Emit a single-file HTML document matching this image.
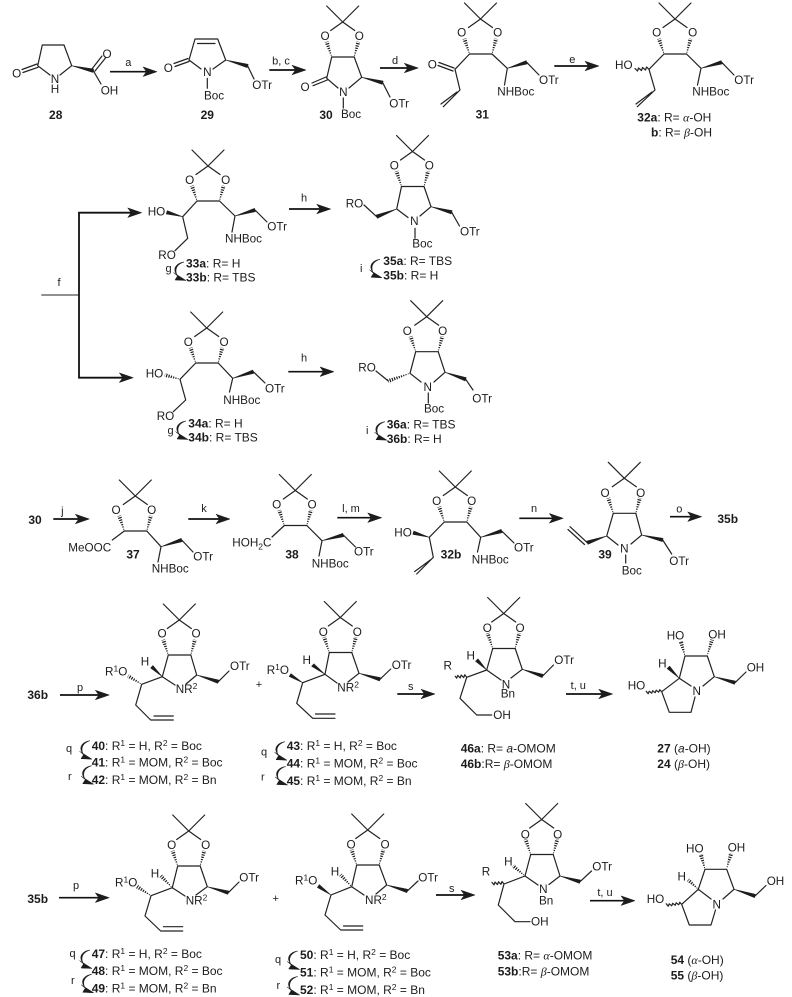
<!DOCTYPE html>
<html><head><meta charset="utf-8"><style>
html,body{margin:0;padding:0;background:#fff}
svg{display:block}
text{font-family:"Liberation Sans",sans-serif;font-size:11.7px;fill:#1c1c1c}
.m{text-anchor:middle}
.s{font-size:11px}
.l{font-size:12px}
.b{font-weight:bold}
.g{font-family:"Liberation Serif",serif;font-style:italic}
.i{font-style:italic}
.k{fill:none;stroke:#222;stroke-width:1.2;stroke-linecap:round;stroke-linejoin:round}
.f{fill:#1c1c1c;stroke:#1c1c1c;stroke-width:.5;stroke-linejoin:round}
.d{fill:none;stroke:#fff;stroke-width:6.5;stroke-dasharray:1.2 1.2}
.a{fill:none;stroke:#111;stroke-width:1.7}
.v{font-size:8.5px}
</style></head><body>
<svg width="792" height="997" viewBox="0 0 792 997" xmlns="http://www.w3.org/2000/svg">
<defs>
<path id="ah" class="f" d="M0 0L-14-4.8L-10.5 0L-14 4.8Z"/>
<g id="ca"><path class="f" d="M0 0C-8 1-12 7-7 13C-9.500 7-7 2.500 0 0Z"/><path class="f" d="M2 18.500L-10.500 10.500L-6.500 14L-9 18Z"/></g>
<g id="ac">
<path class="f" d="M-11 35L-17.8 20.6L-14.2 19.4Z"/><path class="d" d="M-11 35L-16 20"/>
<path class="f" d="M11.5 35L13.7 19.5L17.3 20.5Z"/><path class="d" d="M11.5 35L15.5 20"/>
<path class="k" d="M-16-16L0 0L16-16M0 0L-12 8.5M0 0L12 8.5M-11 35H11.5"/>
</g>
</defs>
<rect width="792" height="997" fill="#fff"/>

<!-- 28 -->
<path class="k" d="M37.7 65.7L42.3 45H64L71.7 65.7L60 75M37.7 65.7L50 75M37 64L22 69.5M38 67.3L23 72.5M91.5 69.5L102 56M95 71L105.5 58M93.3 70.7L101 84"/>
<path class="f" d="M71.7 65.7L93.7 69L92.9 72.5Z"/>
<text class="m" x="16.7" y="77.5">O</text><text class="m" x="55" y="83">N</text><text class="m" x="55" y="93">H</text><text class="m" x="107" y="58">O</text><text x="100.7" y="94.7">OH</text>
<text class="m b l" x="55.7" y="119">28</text>
<path class="a" d="M110 71.7H148"/><use href="#ah" x="157" y="71.7"/><text class="m s" x="128.3" y="66">a</text>

<!-- 29 -->
<path class="k" d="M189 60L195 39H217.7L225.7 60L213 69M189 60L201 69M197.5 43.5H215M188 58.5L174 63.5M189 61.5L175 66.5M207.3 78.3V88.3M247.7 66L254 79"/>
<path class="f" d="M225.7 60L248.2 64.3L247.2 67.7Z"/>
<text class="m" x="168.3" y="71.9">O</text><text class="m" x="207.3" y="75.9">N</text><text x="204" y="99.7">Boc</text><text x="252.3" y="89">OTr</text>
<text class="m b l" x="207.3" y="119">29</text>
<path class="a" d="M269.3 70H297"/><use href="#ah" x="306" y="70"/><text class="m s" x="281" y="64.5">b, c</text>

<!-- 30 -->
<use href="#ac" x="342.7" y="22"/>
<path class="k" d="M331.7 57L326.7 78.3L338 88M354.2 57L361.7 77.3L349 88M326 77L312 83M327.3 80L313 85.7M343.3 98V108M382.7 82.7L390 97"/>
<path class="f" d="M361.7 77.3L383.2 81L382.2 84.4Z"/>
<text class="m" x="325" y="40">O</text><text class="m" x="359.3" y="40">O</text><text class="m" x="305" y="91">O</text><text class="m" x="343.3" y="96">N</text><text x="341" y="118">Boc</text><text x="389.3" y="107.4">OTr</text>
<text class="m b l" x="326" y="119">30</text>
<path class="a" d="M380 68H409"/><use href="#ah" x="418.3" y="68"/><text class="m s" x="395" y="64">d</text>

<!-- 31 -->
<use href="#ac" x="480.5" y="19"/>
<path class="k" d="M469.5 54L455 69.3L460 90L443.3 106.7M457 92L441 104M454 68L439 62.5M453 71L438 65.5M492 54L507.3 68.3L504.5 85M526.7 62.3L539 75"/>
<path class="f" d="M507.3 68.3L527.2 64L526.2 60.6Z"/>
<text class="m" x="461.7" y="36.5">O</text><text class="m" x="497.7" y="36.5">O</text><text class="m" x="432.3" y="68.5">O</text><text x="539" y="84">OTr</text><text x="497.3" y="95.7">NHBoc</text>
<text class="m b l" x="482.3" y="118.3">31</text>
<path class="a" d="M554.3 66H590"/><use href="#ah" x="599" y="66"/><text class="m s" x="572.3" y="63">e</text>

<!-- 32a -->
<use href="#ac" x="675" y="19"/>
<path class="k" d="M664 54L649 69.3L655 90L637.3 106.7M652 92L636 104M686.5 54L701 68.3L697.5 85M721.7 62.3L734 75M649 69.3l-2.5-2.3l-1 3l-3-2.5l-1 3l-3-2.5l-1 3l-2.5-2.5"/>
<path class="f" d="M701 68.3L722.2 64L721.2 60.6Z"/>
<text class="m" x="656.7" y="36.5">O</text><text class="m" x="692.7" y="36.5">O</text><text x="615" y="69">HO</text><text x="734.3" y="84">OTr</text><text x="692.3" y="95.7">NHBoc</text>
<text class="l" x="637.3" y="121.3"><tspan class="b">32a</tspan>: R= <tspan class="g">α</tspan>-OH</text>
<text class="l" x="651" y="136.3"><tspan class="b">b</tspan>: R= <tspan class="g">β</tspan>-OH</text>

<!-- f branch -->
<path class="k" d="M41.7 295H79" style="stroke-width:1"/>
<path class="a" d="M132 212.7H79V377.7H124" style="stroke-width:1.8"/>
<use href="#ah" x="141.7" y="212.7"/><use href="#ah" x="133.3" y="377.7"/>
<text class="m s" x="59" y="286">f</text>

<!-- 33 -->
<use href="#ac" x="208" y="166"/>
<path class="k" d="M197 201L182.7 216.7L187.7 238.3L175 250.7M219.5 201L235 216L232 232M255 210L267 222"/>
<path class="f" d="M182.7 216.7L167.2 210.6L166.2 214Z"/><path class="f" d="M235 216L255.5 211.7L254.5 208.3Z"/>
<text class="m" x="189.7" y="184.2">O</text><text class="m" x="225.7" y="184.2">O</text><text x="147.7" y="215.7">HO</text><text x="158.3" y="259">RO</text><text x="267.3" y="230.7">OTr</text><text x="225" y="242.3">NHBoc</text>
<use href="#ca" x="184" y="262"/><text class="s" x="165.5" y="272">g</text>
<text class="l" x="186" y="267.3"><tspan class="b">33a</tspan>: R= H</text>
<text class="l" x="186" y="281.7"><tspan class="b">33b</tspan>: R= TBS</text>
<path class="a" d="M289 209H321"/><use href="#ah" x="330.7" y="209"/><text class="m s" x="304" y="201.5">h</text>

<!-- 35 -->
<use href="#ac" x="412.5" y="151.5"/>
<path class="k" d="M401.5 186.5L396.7 209L408 217.5M424 186.5L431 206.7L420 216M376.7 216.7L364 205M415 228.3V238.3M451.7 212.3L459.5 226"/>
<path class="f" d="M396.7 209L377.35 218.4L376.05 215Z"/><path class="f" d="M431 206.7L452.2 210.6L451.2 214Z"/>
<text class="m" x="394.3" y="169.7">O</text><text class="m" x="429.3" y="169.7">O</text><text class="m" x="414.3" y="225.2">N</text><text x="345.7" y="207.3">RO</text><text x="412.3" y="247.3">Boc</text><text x="460" y="235.7">OTr</text>
<use href="#ca" x="380" y="259.3"/><text class="s" x="360" y="272">i</text>
<text class="l" x="383.3" y="265"><tspan class="b">35a</tspan>: R= TBS</text>
<text class="l" x="383.3" y="279.7"><tspan class="b">35b</tspan>: R= H</text>

<!-- 34 -->
<use href="#ac" x="206.7" y="328"/>
<path class="f" d="M180 379.3L165.5 373.3L164.5 376.7Z"/><path class="d" d="M180 379.3L165 375"/>
<path class="k" d="M195.7 363L180 379.3L185.7 400L173.3 411.7M218.2 363L232.7 378.3L229.5 392M253.3 371.7L265 383"/>
<path class="f" d="M232.7 378.3L253.8 373.4L252.8 370Z"/>
<text class="m" x="188.3" y="345.9">O</text><text class="m" x="224" y="345.9">O</text><text x="145.7" y="377.3">HO</text><text x="156.7" y="420">RO</text><text x="265" y="392.3">OTr</text><text x="223.3" y="404">NHBoc</text>
<use href="#ca" x="186" y="421"/><text class="s" x="167.5" y="434">g</text>
<text class="l" x="188.3" y="427.3"><tspan class="b">34a</tspan>: R= H</text>
<text class="l" x="188.3" y="441.7"><tspan class="b">34b</tspan>: R= TBS</text>
<path class="a" d="M288.3 371.7H325"/><use href="#ah" x="334" y="371.7"/><text class="m s" x="304" y="361.5">h</text>

<!-- 36 -->
<use href="#ac" x="426.7" y="316.7"/>
<path class="f" d="M410 373.3L389 382.7L387.6 379.3Z"/><path class="d" d="M410 373.3L388.3 381"/>
<path class="k" d="M415.7 351.7L410 373.3L421 382M438.2 351.7L445 372.3L434 382M388.3 381L376 371M428.3 393V403M465.7 379.3L473 390"/>
<path class="f" d="M445 372.3L466.3 377.6L465.1 381Z"/>
<text class="m" x="407.3" y="334.9">O</text><text class="m" x="442.7" y="334.9">O</text><text class="m" x="427.7" y="390.9">N</text><text x="358.3" y="371.3">RO</text><text x="424" y="412.3">Boc</text><text x="472.3" y="402.3">OTr</text>
<use href="#ca" x="385" y="421.7"/><text class="s" x="366" y="434">i</text>
<text class="l" x="386.7" y="428.3"><tspan class="b">36a</tspan>: R= TBS</text>
<text class="l" x="386.7" y="443"><tspan class="b">36b</tspan>: R= H</text>

<!-- row 3 -->
<text class="m b l" x="35" y="524">30</text>
<path class="a" d="M53.3 519H80"/><use href="#ah" x="89.3" y="519"/><text class="m s" x="62.3" y="514.5">j</text>

<use href="#ac" x="135.3" y="496"/>
<path class="k" d="M124.3 531L112.3 540M146.8 531L161 546.7L158 562M181.7 540L193 552"/>
<path class="f" d="M161 546.7L182.2 541.7L181.2 538.3Z"/>
<text class="m" x="116" y="514.2">O</text><text class="m" x="151.7" y="514.2">O</text><text x="68.3" y="551.3">MeOOC</text><text x="193.3" y="560.7">OTr</text><text x="151.7" y="572.3">NHBoc</text>
<text class="m b l" x="133" y="558.3">37</text>
<path class="a" d="M188.3 519H221"/><use href="#ah" x="230" y="519"/><text class="m s" x="204" y="512">k</text>

<use href="#ac" x="295.3" y="490.5"/>
<path class="k" d="M284.3 525.5L272 537M306.8 525.5L322 540.7L319 556M343.3 535L355.5 547"/>
<path class="f" d="M322 540.7L343.8 536.7L342.8 533.3Z"/>
<text class="m" x="276.7" y="508.5">O</text><text class="m" x="312" y="508.5">O</text><text x="232.3" y="546.7">HOH<tspan class="v" dy="3">2</tspan><tspan dy="-3">C</tspan></text><text x="354" y="555.7">OTr</text><text x="311.7" y="567.3">NHBoc</text>
<text class="m b l" x="292" y="558.3">38</text>
<path class="a" d="M337.3 517.7H373"/><use href="#ah" x="381.7" y="517.7"/><text class="m s" x="351" y="512">l, m</text>

<use href="#ac" x="455.3" y="487"/>
<path class="k" d="M444.3 522L429.3 537.3L433.3 557.3L416.7 574M431 559.5L414.7 571.5M466.8 522L480.7 537.3L477.5 552M501.7 531L514 543"/>
<path class="f" d="M429.3 537.3L413.8 531L412.8 534.4Z"/><path class="f" d="M480.7 537.3L502.2 532.7L501.2 529.3Z"/>
<text class="m" x="436.7" y="504.9">O</text><text class="m" x="471.7" y="504.9">O</text><text x="394.3" y="536.7">HO</text><text x="514" y="551.3">OTr</text><text x="471.7" y="563.3">NHBoc</text>
<text class="m b l" x="451" y="558.3">32b</text>
<path class="a" d="M519.3 518.3H554"/><use href="#ah" x="563.3" y="518.3"/><text class="m s" x="534" y="512">n</text>

<use href="#ac" x="624.3" y="478.3"/>
<path class="k" d="M613.3 513.3L606.7 536L618 545M635.8 513.3L641.7 535L631 544M587.3 542.7L570 526.7M584.5 544.5L568 529.5M625.7 555V563M662.7 540L671.7 554"/>
<path class="f" d="M606.7 536L587.9 544.4L586.7 541Z"/><path class="f" d="M641.7 535L663.1 538.3L662.3 541.7Z"/>
<text class="m" x="605" y="496.9">O</text><text class="m" x="640.7" y="496.9">O</text><text class="m" x="624.3" y="552.5">N</text><text x="621.7" y="574.7">Boc</text><text x="669.3" y="565">OTr</text>
<text class="m b l" x="605" y="558.3">39</text>
<path class="a" d="M670 516.7H693"/><use href="#ah" x="701.7" y="516.7"/><text class="m s" x="679.3" y="512.5">o</text>
<text class="m b l" x="727.7" y="523">35b</text>

<!-- row 4 -->
<text class="m b l" x="37.7" y="699">36b</text>
<path class="a" d="M60 695H100"/><use href="#ah" x="109.3" y="695"/><text class="m s" x="80" y="691">p</text>

<use href="#ac" x="179.3" y="620"/>
<path class="f" d="M141.7 684.3L129.25 674.5L127.35 677.5Z"/><path class="d" d="M141.7 684.3L128.3 676"/>
<path class="k" d="M168.3 655L162.3 676.7L175 685M190.8 655L196.7 675L186 684M162.3 676.7L141.7 684.3L135.7 705L150.7 720H173.3M154 716H173.3M218.3 681.7L229 671"/>
<path class="f" d="M162.3 676.7L152.9 665.4L150.5 668Z"/><path class="f" d="M196.7 675L218.8 680L217.8 683.4Z"/>
<text class="m" x="162" y="637.5">O</text><text class="m" x="196" y="637.5">O</text><text class="m" x="145" y="665.7">H</text><text x="105" y="675.7">R<tspan class="v" dy="-4">1</tspan><tspan dy="4">O</tspan></text><text x="175.7" y="693">NR<tspan class="v" dy="-4">2</tspan></text><text x="230" y="670">OTr</text>
<use href="#ca" x="90" y="740.7"/><use href="#ca" x="91.7" y="765.7"/>
<text class="s" x="66" y="752">q</text><text class="s" x="68" y="780">r</text>
<text class="l" x="91.7" y="750"><tspan class="b">40</tspan>: R<tspan class="v" dy="-4">1</tspan><tspan dy="4"> = H, R</tspan><tspan class="v" dy="-4">2</tspan><tspan dy="4"> = Boc</tspan></text>
<text class="l" x="91.7" y="766.7"><tspan class="b">41</tspan>: R<tspan class="v" dy="-4">1</tspan><tspan dy="4"> = MOM, R</tspan><tspan class="v" dy="-4">2</tspan><tspan dy="4"> = Boc</tspan></text>
<text class="l" x="91.7" y="784"><tspan class="b">42</tspan>: R<tspan class="v" dy="-4">1</tspan><tspan dy="4"> = MOM, R</tspan><tspan class="v" dy="-4">2</tspan><tspan dy="4"> = Bn</tspan></text>

<text class="m s" x="259" y="688">+</text>

<use href="#ac" x="340.3" y="617.5"/>
<path class="k" d="M329.3 652.5L325 674.3L337 683M351.8 652.5L359 673.3L348 682M325 674.3L302.7 682.7L296.7 703.3L312.7 718.3H335M315.5 714H335M380 679.3L390.7 669"/>
<path class="f" d="M325 674.3L313.9 663.7L311.5 666.3Z"/><path class="f" d="M302.7 682.7L290.9 673.5L289.1 676.5Z"/><path class="f" d="M359 673.3L380.5 677.6L379.5 681Z"/>
<text class="m" x="323.3" y="635.9">O</text><text class="m" x="357.3" y="635.9">O</text><text class="m" x="306.7" y="664">H</text><text x="266.7" y="674">R<tspan class="v" dy="-4">1</tspan><tspan dy="4">O</tspan></text><text x="337.3" y="691.3">NR<tspan class="v" dy="-4">2</tspan></text><text x="391.7" y="669">OTr</text>
<use href="#ca" x="285" y="741.7"/><use href="#ca" x="285.7" y="766.5"/>
<text class="s" x="261" y="755.5">q</text><text class="s" x="261" y="780.5">r</text>
<text class="l" x="286.7" y="750"><tspan class="b">43</tspan>: R<tspan class="v" dy="-4">1</tspan><tspan dy="4"> = H, R</tspan><tspan class="v" dy="-4">2</tspan><tspan dy="4"> = Boc</tspan></text>
<text class="l" x="286.7" y="767.3"><tspan class="b">44</tspan>: R<tspan class="v" dy="-4">1</tspan><tspan dy="4"> = MOM, R</tspan><tspan class="v" dy="-4">2</tspan><tspan dy="4"> = Boc</tspan></text>
<text class="l" x="286.7" y="785"><tspan class="b">45</tspan>: R<tspan class="v" dy="-4">1</tspan><tspan dy="4"> = MOM, R</tspan><tspan class="v" dy="-4">2</tspan><tspan dy="4"> = Bn</tspan></text>
<path class="a" d="M397.3 694H426"/><use href="#ah" x="435" y="694"/><text class="m s" x="410.7" y="690">s</text>

<use href="#ac" x="503.7" y="613.5"/>
<path class="k" d="M492.7 648.5L486.7 670L501 680M515.2 648.5L522.3 669.3L511 678M486.7 670L466.7 677.3L460 698.3L476.7 715H491.7M542.7 676L553.5 665M466.7 677.3l-2-2.5l-1 2.8l-2.5-2.5l-1 2.8l-2.5-2.5l-1 2.8l-1.5-2"/>
<path class="f" d="M486.7 670L478 658.7L475.4 661.3Z"/><path class="f" d="M522.3 669.3L543.2 674.3L542.2 677.7Z"/>
<text class="m" x="487.3" y="631.9">O</text><text class="m" x="520" y="631.9">O</text><text class="m" x="470.7" y="659.7">H</text><text class="m" x="447.7" y="669.7">R</text><text class="m" x="506" y="688.3">N</text><text x="500.7" y="697.3">Bn</text><text x="493.3" y="719">OH</text><text x="554.3" y="664">OTr</text>
<text class="l" x="460.7" y="752.3"><tspan class="b">46a</tspan>: R= <tspan class="i">a</tspan>-OMOM</text>
<text class="l" x="460.7" y="768"><tspan class="b">46b</tspan>:R= <tspan class="g">β</tspan>-OMOM</text>
<path class="a" d="M566 694H603"/><use href="#ah" x="612.7" y="694"/><text class="m s" x="578.3" y="689">t, u</text>

<!-- 27 -->
<path class="f" d="M685 656L682.8 641.5L679.2 642.5Z"/><path class="d" d="M685 656L681 642"/>
<path class="f" d="M707.3 655.3L713.8 640.5L710.2 639.5Z"/><path class="d" d="M707.3 655.3L712 640"/>
<path class="k" d="M685 656H707.3L714.3 676.7L703 686M685 656L679.3 678.3L691 686M679.3 678.3L661.7 691.7L669.3 712.3H691L695 697M735 682.7L746 672M661.7 691.7l-2-2l-1 2.5l-2.5-2l-1 2.5l-2.5-2l-1 2.5l-2.5-2l-1 2.5l-2-2.5"/>
<path class="f" d="M679.3 678.3L669.6 666L667 668.6Z"/><path class="f" d="M714.3 676.7L735.5 681L734.5 684.4Z"/>
<text x="666.7" y="639.7">HO</text><text x="708.3" y="638.3">OH</text><text class="m" x="662.3" y="667.3">H</text><text x="627.7" y="689.7">HO</text><text class="m" x="696.7" y="695.2">N</text><text x="746.7" y="671.7">OH</text>
<text class="l" x="657.3" y="752.7"><tspan class="b">27</tspan> (<tspan class="i">a</tspan>-OH)</text>
<text class="l" x="657.3" y="768"><tspan class="b">24</tspan> (<tspan class="g">β</tspan>-OH)</text>

<!-- row 5 -->
<text class="m b l" x="37.7" y="903">35b</text>
<path class="a" d="M59 897.7H100"/><use href="#ah" x="109.3" y="897.7"/><text class="m s" x="76" y="889">p</text>

<use href="#ac" x="188.7" y="831"/>
<path class="f" d="M172.3 887.7L162.3 874.7L159.7 877.3Z"/><path class="d" d="M172.3 887.7L161 876"/>
<path class="f" d="M151 895.7L138.3 885.2L136.3 888.2Z"/><path class="d" d="M151 895.7L137.3 886.7"/>
<path class="k" d="M177.7 866L172.3 887.7L185 896M200.2 866L207.3 886.7L196 895M172.3 887.7L151 895.7L145 916L160.7 931H182.7M163.5 926.7H182.7M228.3 892.7L239 882"/>
<path class="f" d="M207.3 886.7L228.8 891L227.8 894.4Z"/>
<text class="m" x="171.7" y="849.2">O</text><text class="m" x="205.7" y="849.2">O</text><text class="m" x="155" y="877.3">H</text><text x="115" y="886.3">R<tspan class="v" dy="-4">1</tspan><tspan dy="4">O</tspan></text><text x="185.7" y="904.7">NR<tspan class="v" dy="-4">2</tspan></text><text x="239.3" y="881.7">OTr</text>
<use href="#ca" x="90" y="950"/><use href="#ca" x="91.7" y="974.3"/>
<text class="s" x="69.5" y="957">q</text><text class="s" x="71" y="984">r</text>
<text class="l" x="91.7" y="958"><tspan class="b">47</tspan>: R<tspan class="v" dy="-4">1</tspan><tspan dy="4"> = H, R</tspan><tspan class="v" dy="-4">2</tspan><tspan dy="4"> = Boc</tspan></text>
<text class="l" x="91.7" y="975"><tspan class="b">48</tspan>: R<tspan class="v" dy="-4">1</tspan><tspan dy="4"> = MOM, R</tspan><tspan class="v" dy="-4">2</tspan><tspan dy="4"> = Boc</tspan></text>
<text class="l" x="91.7" y="992.3"><tspan class="b">49</tspan>: R<tspan class="v" dy="-4">1</tspan><tspan dy="4"> = MOM, R</tspan><tspan class="v" dy="-4">2</tspan><tspan dy="4"> = Bn</tspan></text>

<text class="m s" x="275.7" y="902">+</text>

<use href="#ac" x="367.7" y="830"/>
<path class="f" d="M351.7 886.7L342 873.8L339.4 876.2Z"/><path class="d" d="M351.7 886.7L340.7 875"/>
<path class="k" d="M356.7 865L351.7 886.7L364 895M379.2 865L386.7 885L376 894M351.7 886.7L331 895L325 915L340.7 930H362.7M343.5 926H362.7M407.3 891L418 881"/>
<path class="f" d="M331 895L319.3 884.5L317.3 887.5Z"/><path class="f" d="M386.7 885L407.8 889.3L406.8 892.7Z"/>
<text class="m" x="351" y="848.5">O</text><text class="m" x="385" y="848.5">O</text><text class="m" x="335" y="875.7">H</text><text x="295" y="884.7">R<tspan class="v" dy="-4">1</tspan><tspan dy="4">O</tspan></text><text x="365" y="904">NR<tspan class="v" dy="-4">2</tspan></text><text x="418.3" y="881.3">OTr</text>
<use href="#ca" x="297.7" y="951"/><use href="#ca" x="297.7" y="976.5"/>
<text class="s" x="275" y="963">q</text><text class="s" x="276.5" y="989">r</text>
<text class="l" x="300" y="959"><tspan class="b">50</tspan>: R<tspan class="v" dy="-4">1</tspan><tspan dy="4"> = H, R</tspan><tspan class="v" dy="-4">2</tspan><tspan dy="4"> = Boc</tspan></text>
<text class="l" x="300" y="976.3"><tspan class="b">51</tspan>: R<tspan class="v" dy="-4">1</tspan><tspan dy="4"> = MOM, R</tspan><tspan class="v" dy="-4">2</tspan><tspan dy="4"> = Boc</tspan></text>
<text class="l" x="300" y="994"><tspan class="b">52</tspan>: R<tspan class="v" dy="-4">1</tspan><tspan dy="4"> = MOM, R</tspan><tspan class="v" dy="-4">2</tspan><tspan dy="4"> = Bn</tspan></text>
<path class="a" d="M436 895H466"/><use href="#ah" x="475" y="895"/><text class="m s" x="451.7" y="892">s</text>

<use href="#ac" x="541.7" y="819.5"/>
<path class="f" d="M525 876L514.5 864.7L512.1 867.3Z"/><path class="d" d="M525 876L513.3 866"/>
<path class="k" d="M530.7 854.5L525 876L538 885M553.2 854.5L560 876L549 884.5M525 876L504 884L498.3 905L515 921.7H530M580 881.7L591.5 871M504 884l-2-2.5l-1 2.8l-2.5-2.5l-1 2.8l-2.5-2.5l-1 2.8l-2-2.5"/>
<path class="f" d="M560 876L580.5 880L579.5 883.4Z"/>
<text class="m" x="525.3" y="838.5">O</text><text class="m" x="557.7" y="838.5">O</text><text class="m" x="508.3" y="865.7">H</text><text class="m" x="486" y="875.7">R</text><text class="m" x="543.3" y="893">N</text><text x="539" y="904.7">Bn</text><text x="531" y="925.7">OH</text><text x="592.3" y="870.7">OTr</text>
<text class="l" x="497.7" y="959.7"><tspan class="b">53a</tspan>: R= <tspan class="g">α</tspan>-OMOM</text>
<text class="l" x="497.7" y="975.7"><tspan class="b">53b</tspan>:R= <tspan class="g">β</tspan>-OMOM</text>
<path class="a" d="M590 900.7H626"/><use href="#ah" x="635" y="900.7"/><text class="m s" x="605" y="896">t, u</text>

<!-- 54 -->
<path class="f" d="M705 869.3L702.8 854.5L699.2 855.5Z"/><path class="d" d="M705 869.3L701 855"/>
<path class="f" d="M726.7 868.3L732.8 854.5L729.2 853.5Z"/><path class="d" d="M726.7 868.3L731 854"/>
<path class="f" d="M698.3 889.3L689.5 878.7L687.1 881.3Z"/><path class="d" d="M698.3 889.3L688.3 880"/>
<path class="k" d="M705 869.3H726.7L734 889.3L723 899M705 869.3L698.3 889.3L711 899M698.3 889.3L681.7 904.3L689.3 925H711L715.5 910M755 896L766 885.5M681.7 904.3l-2-2l-1 2.5l-2.5-2l-1 2.5l-2.5-2l-1 2.5l-2.5-2l-1 2.5l-2-2.5"/>
<path class="f" d="M734 889.3L755.5 894.3L754.5 897.7Z"/>
<text x="686" y="852.3">HO</text><text x="727.7" y="851.7">OH</text><text class="m" x="681.7" y="880.7">H</text><text x="646.7" y="903">HO</text><text class="m" x="716.7" y="908.5">N</text><text x="766.7" y="885">OH</text>
<text class="l" x="670.7" y="964"><tspan class="b">54</tspan> (<tspan class="g">α</tspan>-OH)</text>
<text class="l" x="670.7" y="979.7"><tspan class="b">55</tspan> (<tspan class="g">β</tspan>-OH)</text>
</svg>
</body></html>
